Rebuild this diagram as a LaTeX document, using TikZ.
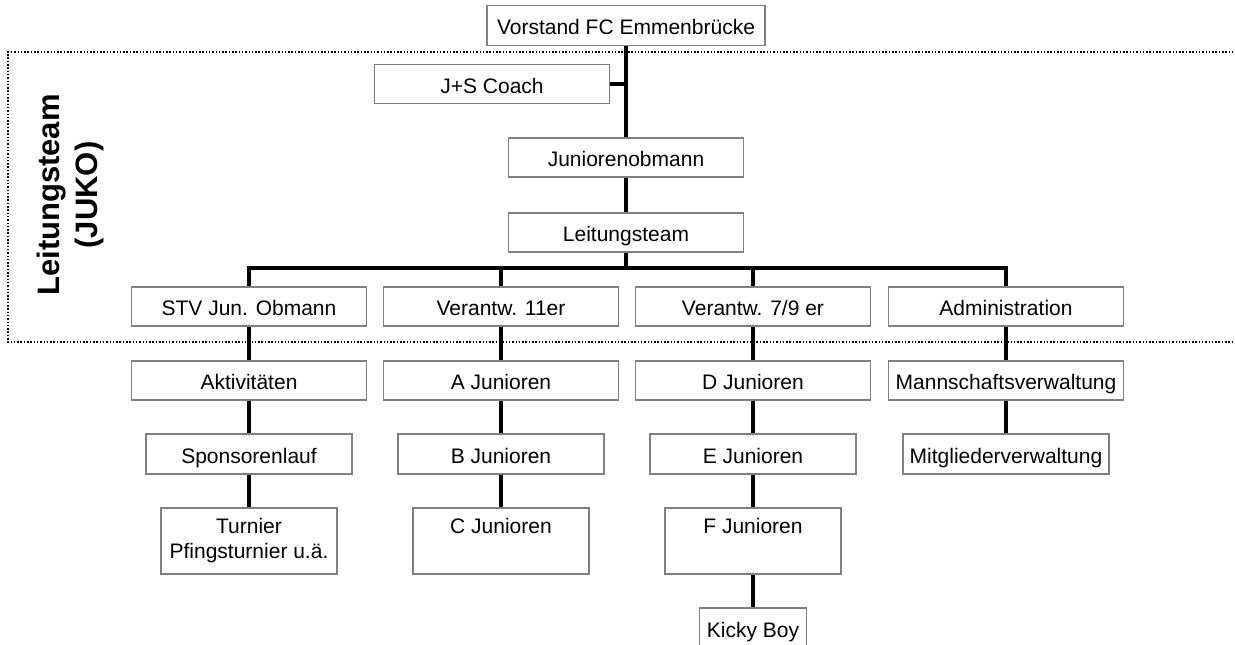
\documentclass[tikz,border=0pt]{standalone}
\usepackage{fontspec}
\setmainfont{Liberation Sans}
\begin{document}
\begin{tikzpicture}[x=1pt, y=-1pt,
  box/.style={draw=gray, line width=1.5pt, fill=white, inner sep=0pt,
    minimum width=235pt, minimum height=39pt, text height=19pt, text depth=1pt,
    font=\fontsize{21}{25}\selectfont},
  tallbox/.style={draw=gray, line width=1.5pt, fill=white, inner sep=0pt, align=center,
    minimum width=176pt, minimum height=66pt, font=\fontsize{21}{25}\selectfont},
  link/.style={black, line width=4.5pt}]
\useasboundingbox (0,0) rectangle (1235,645);
% JUKO frame
\draw[line width=1.5pt, dash pattern=on 1.5pt off 1.8pt] (1240,52) -- (8,52) -- (8,342) -- (1240,342);
\node[rotate=90, align=center, font=\bfseries\fontsize{31}{38}\selectfont] (juko) at (70,195) {Leitungsteam\\(JUKO)};
% top
\node[box, minimum width=278pt, minimum height=40pt] (vor) at (626,25.5) {Vorstand FC Emmenbrücke};
\node[box] (coach) at (492,84) {J+S Coach};
\node[box] (obm) at (626,157.5) {Juniorenobmann};
\node[box] (leit) at (626,232.5) {Leitungsteam};
% row 1
\node[box] (stv) at (249,306.5) {STV Jun. Obmann};
\node[box] (v11) at (501,306.5) {Verantw. 11er};
\node[box] (v79) at (753,306.5) {Verantw. 7/9 er};
\node[box] (adm) at (1006,306.5) {Administration};
% row 2
\node[box] (akt) at (249,380.5) {Aktivitäten};
\node[box] (ajun) at (501,380.5) {A Junioren};
\node[box] (djun) at (753,380.5) {D Junioren};
\node[box] (mann) at (1006,380.5) {Mannschaftsverwaltung};
% row 3
\node[box, minimum width=206pt, minimum height=40pt] (spons) at (249,454) {Sponsorenlauf};
\node[box, minimum width=206pt, minimum height=40pt] (bjun) at (501,454) {B Junioren};
\node[box, minimum width=206pt, minimum height=40pt] (ejun) at (753,454) {E Junioren};
\node[box, minimum width=206pt, minimum height=40pt] (mitgl) at (1006,454) {Mitgliederverwaltung};
% row 4
\node[tallbox] (turn) at (249,541) {Turnier\\Pfingsturnier u.ä.};
\node[tallbox] (cjun) at (501,541) {\strut C Junioren\\\strut};
\node[tallbox] (fjun) at (753,541) {\strut F Junioren\\\strut};
\node[box, minimum width=107pt, minimum height=40pt] (kicky) at (753,628) {Kicky Boy};
% connectors
\coordinate (bus) at (626,268);
\draw[link] (vor.south) -- (obm.north);
\draw[link] (coach.east) -- (coach.east -| vor.south);
\draw[link] (obm.south) -- (leit.north);
\draw[link] (leit.south) -- (bus);
\draw[link] (stv.north) |- (bus) -| (adm.north);
\draw[link] (v11.north) -- (v11.north |- bus);
\draw[link] (v79.north) -- (v79.north |- bus);
\foreach \a/\b in {stv/akt, akt/spons, spons/turn, v11/ajun, ajun/bjun, bjun/cjun,
  v79/djun, djun/ejun, ejun/fjun, fjun/kicky, adm/mann, mann/mitgl}
  \draw[link] (\a.south) -- (\b.north);
\end{tikzpicture}
\end{document}
